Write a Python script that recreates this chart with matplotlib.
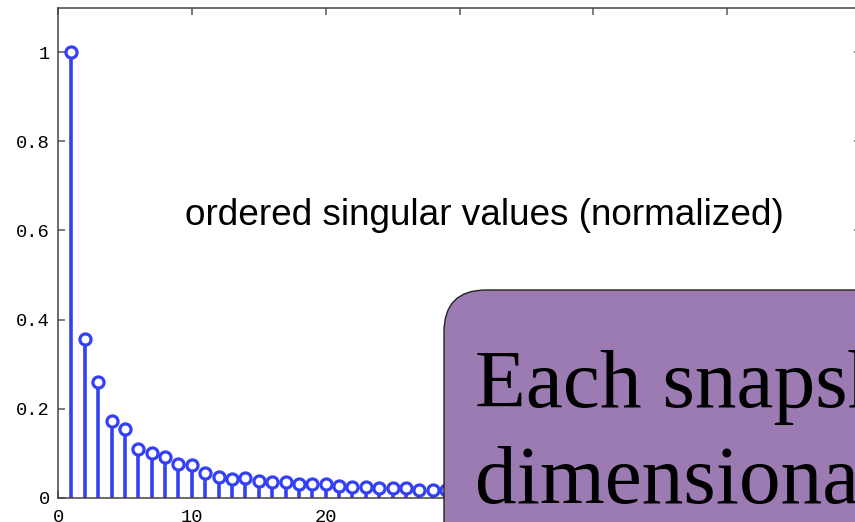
import numpy as np
import matplotlib
matplotlib.use("Agg")
import matplotlib.pyplot as plt
from matplotlib.patches import FancyBboxPatch
from matplotlib.transforms import IdentityTransform

# Normalized singular values, largest first
singular_values = [1.000, 0.357, 0.260, 0.173, 0.154, 0.109, 0.101, 0.091,
                   0.077, 0.074, 0.057, 0.046, 0.043, 0.044, 0.038, 0.036,
                   0.035, 0.031, 0.031, 0.031, 0.027, 0.025, 0.025, 0.022,
                   0.022, 0.022, 0.018, 0.018, 0.017]
x_ticks = [0, 10, 20, 30, 40, 50]
y_ticks = [0, 0.2, 0.4, 0.6, 0.8, 1.0]
y_tick_labels = ["0", "0.2", "0.4", "0.6", "0.8", "1"]

W, H = 855, 522
fig = plt.figure(figsize=(W / 100, H / 100), dpi=100)
ax = fig.add_axes([58 / W, 24 / H, 803 / W, 490.5 / H])

idx = np.arange(1, len(singular_values) + 1)
blue = "#3340f5"
markerline, stemlines, baseline = ax.stem(idx, singular_values, basefmt=" ")
plt.setp(stemlines, color=blue, linewidth=2.6)
plt.setp(markerline, marker="o", markersize=8, markerfacecolor="white",
         markeredgecolor=blue, markeredgewidth=2.3)

ax.set_xlim(0, 60)
ax.set_ylim(0, 1.1)
ax.set_xticks(x_ticks)
ax.set_yticks(y_ticks)
ax.set_yticklabels(y_tick_labels)
ax.tick_params(direction="in", length=5, width=1.2, color="#666666",
               top=True, right=True, labelsize=13.5)
ax.tick_params(axis="x", pad=8)
ax.tick_params(axis="y", pad=6)
for lab in ax.get_xticklabels() + ax.get_yticklabels():
    lab.set_fontfamily("Liberation Mono")
for sp in ax.spines.values():
    sp.set_color("#444444")
    sp.set_linewidth(1.1)

ax.text(185, H - 225, "ordered singular values (normalized)",
        transform=IdentityTransform(), fontsize=26.6, family="Liberation Sans",
        ha="left", va="baseline", color="black")

# Overlay callout box
box = FancyBboxPatch((444, -60), 520, H - 290 + 60,
                     boxstyle="round,pad=0,rounding_size=42",
                     transform=IdentityTransform(), facecolor="#9b7bb2",
                     edgecolor="#222222", linewidth=1.0, zorder=10)
fig.add_artist(box)
fig.text(475, H - 406.7, "Each snapshot", transform=IdentityTransform(),
         fontsize=60, family="Liberation Serif", ha="left", va="baseline",
         color="black", zorder=11)
fig.text(475, H - 503, "dimensional", transform=IdentityTransform(),
         fontsize=60, family="Liberation Serif", ha="left", va="baseline",
         color="black", zorder=11)

fig.savefig("out.png", dpi=100)
